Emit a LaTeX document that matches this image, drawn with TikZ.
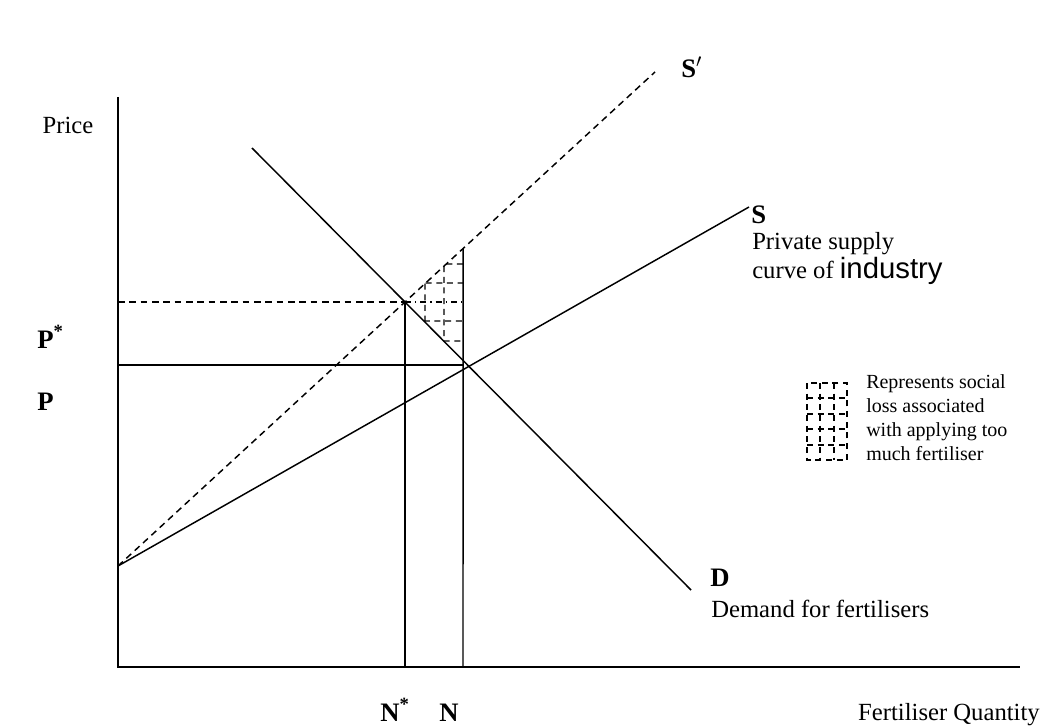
\documentclass[tikz,border=0pt]{standalone}
\usepackage{fontspec}
\setmainfont{Liberation Serif}
\newfontfamily\arialfont{Liberation Sans}
\usepackage{tikz}
\usetikzlibrary{calc}

\begin{document}
\begin{tikzpicture}[x=0.75pt, y=-0.75pt, every node/.style={font=\fontsize{18.5}{21.5}\selectfont, inner sep=0pt},
  curve/.style={line width=1.1pt},
  axis/.style={line width=1.3pt},
  guide/.style={line width=1.1pt, dash pattern=on 5pt off 3.5pt},
  hatch/.style={line width=1.1pt, dash pattern=on 4.5pt off 3.5pt},
  hatchdot/.style={line width=1.1pt, dash pattern=on 4.5pt off 3pt on 1pt off 3pt},
  lbl/.style={font=\fontsize{20}{24}\selectfont\bfseries},
  legendtext/.style={font=\fontsize{15}{18}\selectfont, align=left, anchor=north west}]
  \useasboundingbox (0,0) rectangle (1049,727);

  % axes
  \coordinate (origin) at (118,667);
  \coordinate (ytop) at (118,97);
  \coordinate (xend) at (1020,667);
  \draw[axis] (ytop) -- (origin) -- (xend);

  % supply and demand
  \coordinate (base) at (118,566);
  \coordinate (send) at (749,207);
  \coordinate (ssend) at (655,72);
  \coordinate (dtop) at (252,148);
  \coordinate (dend) at (691,590);
  \draw[curve] (base) -- (send);
  \draw[guide] (base) -- (ssend);
  \draw[curve] (dtop) -- (dend);

  % quantities and prices
  \coordinate (nfoot) at (463,667);
  \coordinate (nhead) at (463,97);
  \coordinate (ntop) at (intersection of base--ssend and nfoot--nhead);
  \coordinate (opt) at (intersection of base--ssend and dtop--dend);
  \draw[curve] (nfoot) -- (ntop);
  \draw[curve] (opt |- origin) -- (opt);
  \draw[curve] (118,365) -- (nfoot |- 0,365);
  \draw[guide] (origin |- opt) -- (opt);

  % social loss area
  \foreach \yy in {264,283}
    \draw[hatch] ($(base)!{(566-\yy)/494}!(ssend)$) -- (nfoot |- 0,\yy);
  \foreach \yy in {321,341}
    \draw[hatch] ($(dtop)!{(\yy-148)/442}!(dend)$) -- (nfoot |- 0,\yy);
  \draw[hatchdot] (opt) -- (nfoot |- opt);
  \foreach \xx in {425,444}
    \draw[hatch] ($(base)!{(\xx-118)/537}!(ssend)$) -- ($(dtop)!{(\xx-252)/439}!(dend)$);

  % legend
  \draw[hatch] (807,383) rectangle (847,460);
  \foreach \xx in {820,834}
    \draw[hatch] (\xx,383) -- (\xx,460);
  \foreach \yy in {398,414,429,445}
    \draw[hatch] (807,\yy) -- (847,\yy);
  \node[legendtext] (legend) at (866,374) {Represents social\\loss associated\\with applying too\\much fertiliser};

  % labels
  \node (price) at (68,125) {Price};
  \node[lbl, anchor=base west] (pstar) at (37,348) {P\textsuperscript{*}};
  \node[lbl, anchor=base west] (plab) at (37,410) {P};
  \node[lbl, anchor=base west] (nstar) at (380,721) {N\textsuperscript{*}};
  \node[lbl, anchor=base west] (nlab) at (439,721) {N};
  \node[anchor=base east] (qty) at (1040,720) {Fertiliser Quantity};
  \node[lbl, anchor=west] (slab) at (681,67) {S$'$};
  \node[lbl, anchor=west] (sup) at (751,215) {S};
  \node[anchor=north west, align=left] (supname) at (752,232) {Private supply\\curve of {\arialfont\fontsize{22}{21.5}\selectfont industry}};
  \node[lbl, anchor=west] (dlab) at (710,578) {D};
  \node[anchor=west] (dname) at (711,609) {Demand for fertilisers};
\end{tikzpicture}
\end{document}
